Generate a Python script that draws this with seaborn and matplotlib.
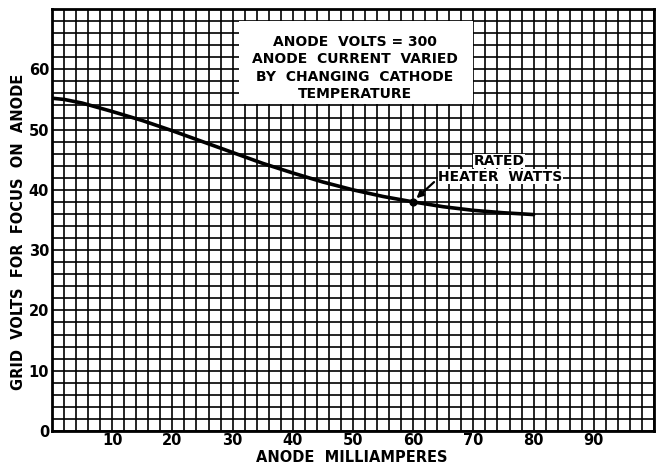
import numpy as np
import pandas as pd
import matplotlib
matplotlib.use("Agg")
import matplotlib.pyplot as plt
from matplotlib.patches import Rectangle
import seaborn as sns

# data
anode_ma = [0, 2, 5, 10, 15, 20, 25, 30, 35, 40, 45, 50, 55, 60, 65, 70, 75, 80]
grid_volts = [55.2, 55.0, 54.4, 53.0, 51.5, 49.8, 48.0, 46.2, 44.4, 42.8, 41.3, 40.0, 38.9, 38.0, 37.2, 36.6, 36.2, 35.9]
rated_point_x = [60]
rated_point_y = [38.0]
x_tick_vals = [0, 10, 20, 30, 40, 50, 60, 70, 80, 90, 100]
x_tick_labels = ["", "10", "20", "30", "40", "50", "60", "70", "80", "90", ""]
y_tick_vals = [0, 10, 20, 30, 40, 50, 60, 70]
y_tick_labels = ["0", "10", "20", "30", "40", "50", "60", ""]
note_text = "ANODE  VOLTS = 300\nANODE  CURRENT  VARIED\nBY  CHANGING  CATHODE\nTEMPERATURE"
x_label = "ANODE  MILLIAMPERES"
y_label = "GRID  VOLTS  FOR  FOCUS  ON  ANODE"

sns.set_style("white")
plt.rcParams["font.family"] = ["DejaVu Sans"]
plt.rcParams["font.weight"] = "bold"
plt.rcParams["text.color"] = "black"
plt.rcParams["xtick.color"] = "black"
plt.rcParams["ytick.color"] = "black"

df = pd.DataFrame({"ma": anode_ma, "v": grid_volts})

fig = plt.figure(figsize=(6.63, 4.65), dpi=100)
ax = fig.add_axes([52 / 663, 1 - 431 / 465, (654 - 52) / 663, (431 - 9) / 465])

sns.lineplot(data=df, x="ma", y="v", ax=ax, color="black", linewidth=2.6, zorder=4)
ax.scatter(rated_point_x, rated_point_y, s=24, color="black", zorder=5)

ax.set_xlim(0, 100)
ax.set_ylim(0, 70)
ax.set_xticks(x_tick_vals)
ax.set_xticklabels(x_tick_labels, fontsize=10.5, fontweight="bold")
ax.set_yticks(y_tick_vals)
ax.set_yticklabels(y_tick_labels, fontsize=10.5, fontweight="bold")
ax.set_xticks(np.arange(0, 101, 2), minor=True)
ax.set_yticks(np.arange(0, 71, 2), minor=True)
ax.grid(True, which="both", color="black", linewidth=1.2)
ax.set_axisbelow(True)
ax.tick_params(which="both", length=0)
ax.tick_params(axis="x", pad=1.5)
ax.tick_params(axis="y", pad=2)
for s in ax.spines.values():
    s.set_linewidth(2)
    s.set_color("black")
ax.set_xlabel("")
ax.set_ylabel("")

# note box
ax.add_patch(Rectangle((31, 54.2), 39, 13.8, facecolor="white", edgecolor="none", zorder=3))
ax.text(50.3, 60.2, note_text, ha="center", va="center", fontsize=10, fontweight="bold",
        linespacing=1.3, zorder=6)

# rated heater watts annotation
ax.text(74.3, 44.8, "RATED", ha="center", va="center", fontsize=10, fontweight="bold",
        zorder=6, bbox=dict(facecolor="white", edgecolor="none", pad=0.3))
ax.text(64.2, 42.2, "HEATER  WATTS", ha="left", va="center", fontsize=10, fontweight="bold",
        zorder=6, bbox=dict(facecolor="white", edgecolor="none", pad=0.3))
ax.annotate("", xy=(60.2, 38.3), xytext=(63.8, 41.6),
            arrowprops=dict(arrowstyle="-|>", color="black", lw=1.6, mutation_scale=10), zorder=6)

fig.text(352 / 663, 1 - 457 / 465, x_label, ha="center", va="center", fontsize=10.5, fontweight="bold")
fig.text(19 / 663, 1 - 232 / 465, y_label, ha="center", va="center", rotation=90, fontsize=10.5,
         fontweight="bold")

fig.savefig("out.png", dpi=100)
